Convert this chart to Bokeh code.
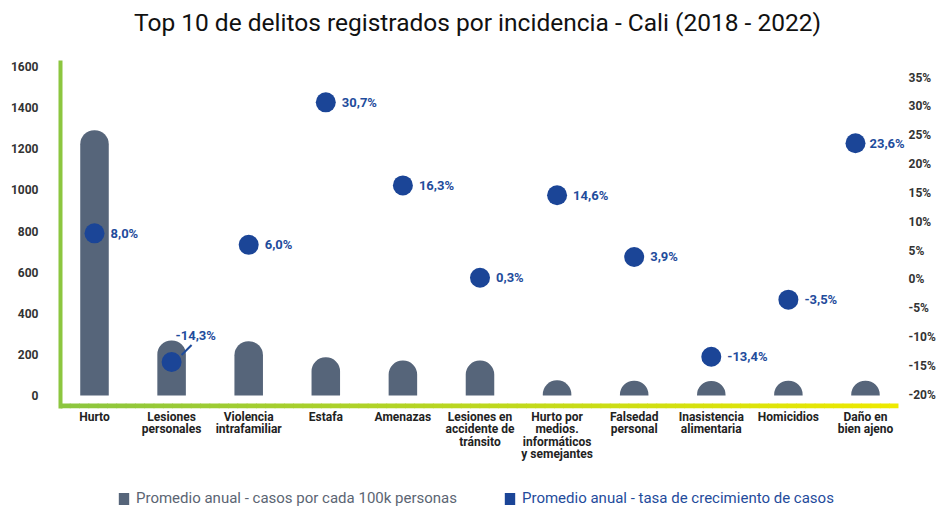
import numpy as np
from bokeh.plotting import figure
from bokeh.layouts import column
from bokeh.models import (ColumnDataSource, Range1d, LinearAxis, FixedTicker, Label,
                          Legend, LegendItem, PrintfTickFormatter)
from bokeh.core.properties import value
from bokeh.embed import file_html
from bokeh.resources import INLINE

# ---------------- data ----------------
categories = ["Hurto", "Lesiones\npersonales", "Violencia\nintrafamiliar", "Estafa", "Amenazas",
              "Lesiones en\naccidente de\ntránsito", "Hurto por\nmedios.\ninformáticos\ny semejantes",
              "Falsedad\npersonal", "Inasistencia\nalimentaria", "Homicidios", "Daño en\nbien ajeno"]
casos = [1290, 268, 264, 186, 170, 170, 74, 72, 71, 72, 72]
tasa = [8.0, -14.3, 6.0, 30.7, 16.3, 0.3, 14.6, 3.9, -13.4, -3.5, 23.6]
tasa_labels = ["8,0%", "-14,3%", "6,0%", "30,7%", "16,3%", "0,3%", "14,6%", "3,9%", "-13,4%", "-3,5%", "23,6%"]
left_ticks = [0, 200, 400, 600, 800, 1000, 1200, 1400, 1600]
right_ticks = [-20, -15, -10, -5, 0, 5, 10, 15, 20, 25, 30, 35]
title_text = "Top 10 de delitos registrados por incidencia - Cali (2018 - 2022)"
legend_bar = "Promedio anual - casos por cada 100k personas"
legend_pt = "Promedio anual - tasa de crecimiento de casos"

# ---------------- layout constants ----------------
W = 938
TH = 40            # title strip height
H = 438            # main plot height
LH = 30            # legend strip height
ML, MR, MT, MB = 60, 31, 20, 70
FW, FH = W - ML - MR, H - MT - MB
X0, X1 = -0.441, 10.545
XLINE = 10.428
Y0, Y1 = -63, 1629
P0, P1 = -22.36, 37.95
px_x = FW / (X1 - X0)
px_y = FH / (Y1 - Y0)
px_p = FH / (P1 - P0)

FONT = "Roboto"
BAR = "#56657a"
BLUE = "#1b4597"
LBLUE = "#1f4c9c"

n_cat = len(categories)
xs = list(range(n_cat))
pt_shift_px = [0] * n_cat
pt_shift_px[-1] = -10
x_off = [16] * n_cat
y_off = [0] * n_cat
x_off[1], y_off[1] = 4, -26
x_off[-1] = 14
pt_x = [x + d / px_x for x, d in zip(xs, pt_shift_px)]
src = ColumnDataSource(dict(x=xs, px=pt_x, casos=casos, tasa=tasa, lab=tasa_labels, xo=x_off, yo=y_off))

# ---------------- title strip ----------------
tf = figure(width=W, height=TH, output_backend="svg", toolbar_location=None,
            x_range=Range1d(0, 1), y_range=Range1d(0, 1), x_axis_type=None, y_axis_type=None,
            min_border=0)
tf.outline_line_color = None
tf.grid.visible = False
tf.add_layout(Label(x=417, y=TH - 22, x_units="screen", y_units="screen", text=title_text,
                    text_font=FONT, text_font_size="24.5px", text_color="#111111",
                    text_align="center", text_baseline="middle"))

# ---------------- main plot ----------------
p = figure(width=W, height=H, output_backend="svg", toolbar_location=None,
           x_range=Range1d(X0, X1), y_range=Range1d(Y0, Y1),
           min_border_left=ML, min_border_right=MR, min_border_top=MT, min_border_bottom=MB)
p.extra_y_ranges = {"pct": Range1d(P0, P1)}
p.outline_line_color = None
p.grid.visible = False

bars = p.vbar(x="x", top="casos", bottom=0, width=0.37, source=src, fill_color=BAR,
              line_color=None, border_radius=(14, 14, 0, 0))

# gradient baseline
n = 90
edges = np.linspace(X0, XLINE, n + 1)
c0 = np.array([140, 198, 63])
c1 = np.array([238, 234, 0])
cols = []
for i in range(n):
    t = i / (n - 1)
    c = (c0 + (c1 - c0) * t).astype(int)
    cols.append("#%02x%02x%02x" % tuple(c))
p.quad(left=edges[:-1], right=np.minimum(edges[1:] + 0.01, XLINE), bottom=Y0, top=Y0 + 5 / px_y,
       fill_color=cols, line_color=None)

pts = p.scatter(x="px", y="tasa", size=20, source=src, fill_color=BLUE, line_color=None,
                y_range_name="pct")
i = 1
p.segment(x0=[pt_x[i] + 10 / px_x], y0=[tasa[i] + 7 / px_p], x1=[pt_x[i] + 20 / px_x],
          y1=[tasa[i] + 17 / px_p], y_range_name="pct", line_color=LBLUE, line_width=2)
p.text(x="px", y="tasa", text="lab", source=src, y_range_name="pct", x_offset="xo", y_offset="yo",
       text_font=value(FONT), text_font_style="bold", text_font_size="13px",
       text_color=LBLUE, text_baseline="middle", text_align="left")

p.xaxis.ticker = FixedTicker(ticks=xs)
p.xaxis.major_label_overrides = {k: v for k, v in zip(xs, categories)}
p.xaxis.axis_line_color = None
p.xaxis.major_tick_line_color = None
p.xaxis.minor_tick_line_color = None
p.xaxis.major_tick_out = 0
p.xaxis.major_tick_in = 0
p.xaxis.major_label_standoff = 1
p.xaxis.major_label_text_font = FONT
p.xaxis.major_label_text_font_style = "bold"
p.xaxis.major_label_text_font_size = "12px"
p.xaxis.major_label_text_color = "#222222"
p.xaxis.major_label_text_line_height = 0.9

p.yaxis.ticker = FixedTicker(ticks=left_ticks)
p.yaxis.axis_line_color = "#8cc63f"
p.yaxis.axis_line_width = 4
p.yaxis.major_tick_line_color = None
p.yaxis.minor_tick_line_color = None
p.yaxis.major_tick_out = 0
p.yaxis.major_tick_in = 0
p.yaxis.major_label_standoff = 22
p.yaxis.major_label_text_font = FONT
p.yaxis.major_label_text_font_style = "bold"
p.yaxis.major_label_text_font_size = "12px"
p.yaxis.major_label_text_color = "#333333"

ra = LinearAxis(y_range_name="pct", ticker=FixedTicker(ticks=right_ticks),
                formatter=PrintfTickFormatter(format="%d%%"))
ra.axis_line_color = None
ra.major_tick_line_color = None
ra.minor_tick_line_color = None
ra.major_tick_out = 0
ra.major_tick_in = 0
ra.major_label_standoff = 1
ra.major_label_text_font = FONT
ra.major_label_text_font_style = "bold"
ra.major_label_text_font_size = "12px"
ra.major_label_text_color = "#333333"
p.add_layout(ra, "right")

# ---------------- legend strip ----------------
lf = figure(width=W, height=LH, output_backend="svg", toolbar_location=None,
            x_range=Range1d(0, 1), y_range=Range1d(0, 1), x_axis_type=None, y_axis_type=None,
            min_border=0)
lf.outline_line_color = None
lf.grid.visible = False
# off-range renderers used only to provide the legend swatches
r_bar = lf.vbar(x=[-10], top=[-10], bottom=[-11], width=0.1, fill_color=BAR, line_color=None)
r_pt = lf.vbar(x=[-10], top=[-10], bottom=[-11], width=0.1, fill_color=BLUE, line_color=None)


def mk_legend(item, loc, color):
    return Legend(items=[item], location=loc, orientation="horizontal",
                  label_text_font=FONT, label_text_font_size="15px", label_text_color=color,
                  glyph_width=13, glyph_height=15, label_height=15, label_standoff=6,
                  padding=0, spacing=0, margin=0, border_line_color=None,
                  background_fill_alpha=0)


lf.add_layout(mk_legend(LegendItem(label=legend_bar, renderers=[r_bar]), (57, 1), "#5b6573"))
lf.add_layout(mk_legend(LegendItem(label=legend_pt, renderers=[r_pt]), (443, 1), LBLUE))

layout = column(tf, p, lf, spacing=0)
open("out.html", "w").write(file_html(layout, INLINE))
